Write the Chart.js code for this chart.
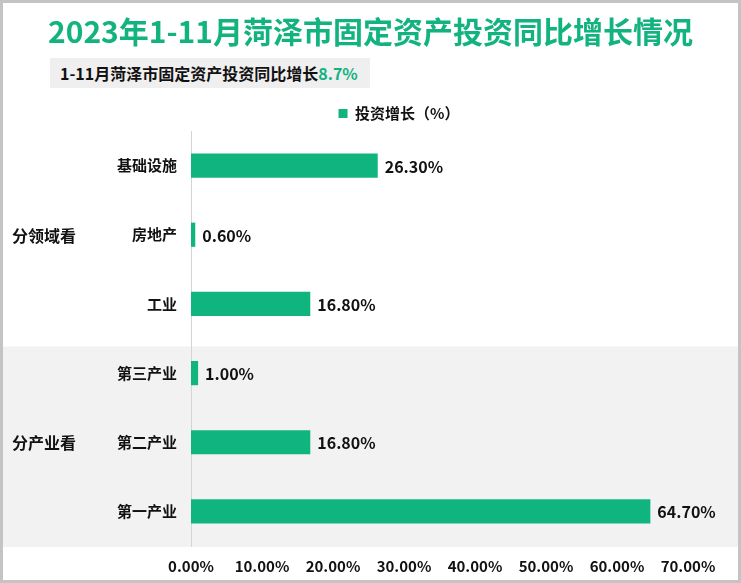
<!DOCTYPE html>
<html>
<head>
<meta charset="utf-8">
<script src="https://cdn.jsdelivr.net/npm/chart.js@4.4.0/dist/chart.umd.min.js"></script>
<style>
  html,body{margin:0;padding:0;background:#fff;}
  #wrap{position:relative;width:741px;height:583px;box-sizing:border-box;border:3px solid #c4c4c4;overflow:hidden;
        font-family:"Microsoft YaHei","Noto Sans CJK SC","Noto Sans",sans-serif;}
  #title{position:absolute;left:0;top:7px;width:735px;text-align:center;color:#12b37f;font-weight:bold;font-size:30px;line-height:40px;}
  #sub{position:absolute;left:47px;top:55px;width:320px;height:30px;background:#efefef;font-weight:bold;font-size:16px;line-height:30px;padding-left:10px;box-sizing:border-box;color:#111;}
  #sub span{color:#12b37f;}
  canvas{position:absolute;left:-3px;top:-3px;}
</style>
</head>
<body>
<div id="wrap">
  <canvas id="myChart" width="741" height="583"></canvas>
  <div id="title">2023年1-11月菏泽市固定资产投资同比增长情况</div>
  <div id="sub">1-11月菏泽市固定资产投资同比增长<span>8.7%</span></div>
</div>
<script>
var categories=['基础设施','房地产','工业','第三产业','第二产业','第一产业'];
var growth=[26.3,0.6,16.8,1.0,16.8,64.7];
var groups=['分领域看','分产业看'];
var groupSize=[3,3];
var xTicks=[0,10,20,30,40,50,60,70];
var seriesName='投资增长（%）';

var fontFamily='"Microsoft YaHei","Noto Sans CJK SC","Noto Sans",sans-serif';
var green='#10b47f';

//gray band behind the second group and the group names on the left
var groupPlugin={
    id:'groups',
    beforeDraw:function(chart) {
        var ctx=chart.ctx;
        var y=chart.scales.y;
        var half=(y.getPixelForValue(1)-y.getPixelForValue(0))/2;
        var start=0;
        ctx.save();
        for(let g=0;g<groups.length;g++) {
            var top=y.getPixelForValue(start)-half+8;
            var bottom=y.getPixelForValue(start+groupSize[g]-1)+half+1;
            if(g%2==1) {
                ctx.fillStyle='#f2f2f2';
                ctx.fillRect(3,top,735,bottom-top);
            }
            start+=groupSize[g];
        }
        start=0;
        ctx.fillStyle='#111';
        ctx.font='bold 16px '+fontFamily;
        ctx.textAlign='left';
        ctx.textBaseline='middle';
        for(let g=0;g<groups.length;g++) {
            var mid=(y.getPixelForValue(start)+y.getPixelForValue(start+groupSize[g]-1))/2;
            ctx.fillText(groups[g],12,mid+1);
            start+=groupSize[g];
        }
        ctx.restore();
    }
};

/*value labels at the end of each bar*/
var labelPlugin={
    id:'valueLabels',
    afterDatasetsDraw:function(chart) {
        var ctx=chart.ctx;
        var meta=chart.getDatasetMeta(0);
        ctx.save();
        ctx.fillStyle='#111';
        ctx.font='bold 16px '+fontFamily;
        ctx.textAlign='left';
        ctx.textBaseline='middle';
        meta.data.forEach(function(bar,i) {
            ctx.fillText(growth[i].toFixed(2)+'%',bar.x+7,bar.y+1);
        });
        ctx.restore();
    }
};

var ctx=document.querySelector('#myChart').getContext('2d');
var myChart=new Chart(ctx,{
    type:'bar',
    data:{
        labels:categories,
        datasets:[{
            label:seriesName,
            data:growth,
            backgroundColor:green,
            borderWidth:0,
            barPercentage:0.7,
            categoryPercentage:0.5
        }]
    },
    options:{
        indexAxis:'y',
        responsive:false,
        animation:false,
        layout:{padding:{left:110,right:53,top:98,bottom:0}},
        plugins:{
            legend:{
                display:true,
                position:'top',
                labels:{
                    boxWidth:9,
                    boxHeight:9,
                    padding:8,
                    color:'#111',
                    font:{family:fontFamily,size:15,weight:'bold'}
                }
            },
            tooltip:{enabled:false}
        },
        scales:{
            x:{
                min:0,
                max:70,
                afterBuildTicks:function(scale) {
                    scale.ticks=xTicks.map(function(v){return {value:v};});
                },
                afterFit:function(scale){scale.height=37;},
                grid:{display:false,drawTicks:false},
                border:{display:false},
                ticks:{
                    padding:11,
                    color:'#111',
                    font:{family:fontFamily,size:15,weight:'bold'},
                    maxRotation:0,
                    callback:function(v){return v.toFixed(2)+'%';}
                }
            },
            y:{
                afterFit:function(scale){scale.width=81;},
                grid:{display:false,drawTicks:false},
                border:{display:true,color:'#d4d4d4'},
                ticks:{
                    padding:14,
                    color:'#111',
                    font:{family:fontFamily,size:15,weight:'bold'}
                }
            }
        }
    },
    plugins:[groupPlugin,labelPlugin]
});
</script>
</body>
</html>
